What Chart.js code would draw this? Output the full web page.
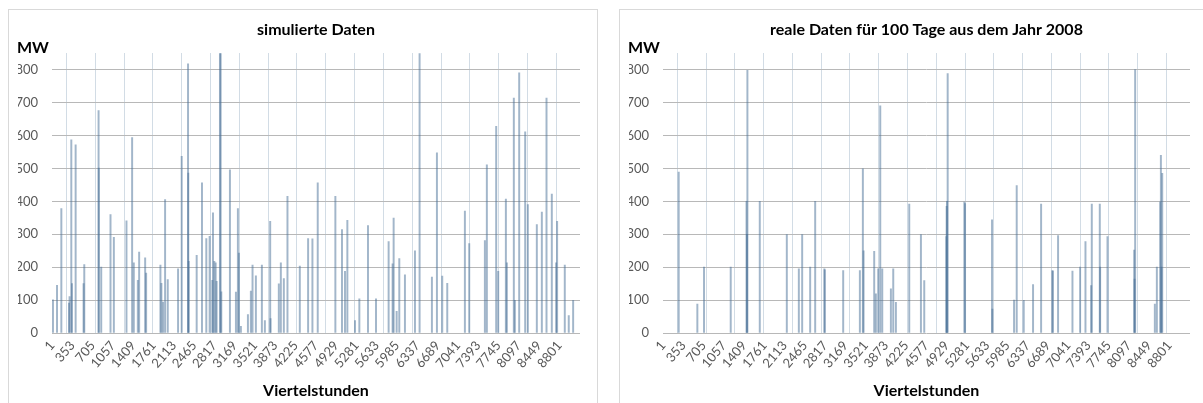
<!DOCTYPE html>
<html>
<head>
<meta charset="utf-8">
<script src="https://cdn.jsdelivr.net/npm/chart.js@4.4.0/dist/chart.umd.min.js"></script>
<style>
html, body { margin: 0; padding: 0; background: #fff; overflow: hidden; }
.box { position: absolute; top: 9px; height: 400px; border: 1px solid #d9d9d9; }
#boxSim { left: 8px; width: 588px; }
#boxReal { left: 619px; width: 600px; }
canvas { display: block; }
</style>
</head>
<body>
<div class="box" id="boxSim"><canvas id="simChart" width="588" height="400"></canvas></div>
<div class="box" id="boxReal"><canvas id="realChart" width="583" height="400"></canvas></div>
<script>
// Viertelstunden-Index und Leistung in MW (simulierte Daten)
const simIdx = [17, 87, 162, 295, 305, 335, 346, 410, 548, 560, 808, 812, 854, 1015, 1073, 1292, 1390, 1419, 1489, 1512,
  1616, 1633, 1881, 1898, 1927, 1962, 2008, 2187, 2250, 2360, 2364, 2372, 2510, 2602, 2677, 2735, 2781, 2793, 2816, 2839,
  2856, 2914, 2926, 2937, 3087, 3191, 3225, 3243, 3277, 3399, 3450, 3479, 3537, 3641, 3693, 3785, 3791, 3935, 3970, 4022,
  4085, 4299, 4443, 4518, 4610, 4916, 5031, 5083, 5124, 5257, 5332, 5482, 5621, 5840, 5909, 5927, 5979, 6025, 6123, 6297,
  6377, 6591, 6678, 6770, 6857, 7163, 7238, 7510, 7544, 7706, 7741, 7874, 7891, 8012, 8030, 8105, 8209, 8255, 8411, 8498,
  8579, 8671, 8746, 8763, 8896, 8965, 9041];
const simVal = [101, 145, 378, 91, 111, 587, 150, 572, 150, 208, 676, 501, 200, 360, 291, 341, 594, 213, 160, 246,
  228, 182, 206, 151, 94, 405, 162, 195, 537, 818, 486, 218, 236, 456, 287, 294, 160, 365, 218, 213,
  157, 880, 880, 125, 496, 124, 378, 243, 20, 56, 127, 206, 174, 206, 38, 339, 44, 149, 213, 165,
  415, 203, 287, 286, 456, 415, 314, 187, 342, 38, 104, 326, 104, 278, 210, 349, 66, 226, 177, 250,
  880, 170, 547, 173, 151, 370, 272, 281, 511, 628, 187, 407, 213, 714, 99, 790, 611, 390, 329, 367,
  714, 422, 213, 339, 206, 53, 99];

// reale Daten 2008
const realIdx = [273, 597, 713, 1177, 1452, 1460, 1467, 1682, 2152, 2361, 2419, 2558, 2645, 2805, 2812, 3132, 3422, 3474, 3486, 3671,
  3700, 3741, 3776, 3811, 3961, 4002, 4048, 4280, 4483, 4541, 4924, 4930, 4936, 4948, 5238, 5250, 5719, 5725, 6102, 6148,
  6270, 6432, 6572, 6769, 6775, 6867, 7117, 7250, 7343, 7442, 7453, 7592, 7598, 7726, 8190, 8197, 8207, 8549, 8584, 8642,
  8654, 8665, 8677];
const realVal = [489, 88, 200, 200, 400, 300, 798, 400, 299, 195, 299, 200, 400, 195, 192, 190, 190, 499, 250, 248,
  119, 195, 690, 195, 134, 195, 93, 392, 299, 159, 293, 385, 400, 788, 398, 393, 344, 73, 100, 448,
  99, 147, 392, 190, 188, 296, 188, 200, 278, 144, 392, 392, 200, 293, 252, 164, 800, 88, 200, 398,
  540, 200, 485];

const xTickLabels = [1, 353, 705, 1057, 1409, 1761, 2113, 2465, 2817, 3169, 3521, 3873, 4225, 4577, 4929, 5281,
  5633, 5985, 6337, 6689, 7041, 7393, 7745, 8097, 8449, 8801];
const xGridSteps = [0, 500, 1000, 1500, 2000, 2500, 3000, 3500, 4000, 4500, 5000, 5500, 6000, 6500, 7000, 7500, 8000, 8500, 9000];
const yTicks = [0, 100, 200, 300, 400, 500, 600, 700, 800];
const xMax = 9160;
const yMax = 850;

const mwLabel = {
  id: 'mwLabel',
  afterDraw(chart) {
    const { ctx, chartArea } = chart;
    ctx.save();
    ctx.font = 'bold 16px Lato';
    ctx.fillStyle = '#000';
    ctx.textAlign = 'left';
    ctx.textBaseline = 'middle';
    ctx.fillText('MW', chartArea.left - 35, chartArea.top - 5);
    ctx.restore();
  }
};

function makeChart(canvasId, title, idx, vals, padLeft, padRight) {
  const ctx = document.getElementById(canvasId).getContext('2d');
  return new Chart(ctx, {
    type: 'bar',
    data: {
      datasets: [{
        data: idx.map((x, i) => ({ x: x, y: vals[i] })),
        backgroundColor: 'rgba(70,110,150,0.5)',
        borderWidth: 0,
        barThickness: 1.3
      }]
    },
    options: {
      responsive: false,
      animation: false,
      layout: { padding: { left: padLeft, right: padRight, top: 0, bottom: 0 } },
      plugins: {
        legend: { display: false },
        tooltip: { enabled: false },
        title: {
          display: true,
          text: title,
          fullSize: false,
          color: '#000',
          font: { family: 'Lato', size: 16, weight: 'bold' },
          padding: { top: 10, bottom: 14 }
        }
      },
      scales: {
        x: {
          type: 'linear',
          min: 0,
          max: xMax,
          offset: false,
          afterBuildTicks: a => { a.ticks = xTickLabels.map(v => ({ value: v })); },
          afterFit: a => { a.height = 77; },
          grid: { display: false, drawTicks: false },
          border: { display: false },
          ticks: {
            autoSkip: false,
            minRotation: 50,
            maxRotation: 50,
            padding: 5,
            color: '#595959',
            font: { family: 'Lato', size: 13 },
            callback: v => String(v)
          },
          title: {
            display: true,
            text: 'Viertelstunden',
            color: '#000',
            font: { family: 'Lato', size: 16, weight: 'bold' },
            padding: { top: 0, bottom: 10 }
          }
        },
        xGrid: {
          type: 'linear',
          position: 'top',
          min: 0,
          max: xMax,
          offset: false,
          afterBuildTicks: a => { a.ticks = xGridSteps.map(v => ({ value: v })); },
          afterFit: a => { a.height = 0; },
          ticks: { display: false },
          grid: { color: '#d2dce5', drawTicks: false },
          border: { display: false }
        },
        y: {
          min: 0,
          max: yMax,
          afterBuildTicks: a => { a.ticks = yTicks.map(v => ({ value: v })); },
          afterFit: a => { a.width = 34; },
          grid: { color: '#b8b8b8', drawTicks: false },
          border: { display: false },
          ticks: { padding: 14, color: '#595959', font: { family: 'Lato', size: 13 } }
        }
      }
    },
    plugins: [mwLabel]
  });
}

makeChart('simChart', 'simulierte Daten', simIdx, simVal, 9, 17);
makeChart('realChart', 'reale Daten für 100 Tage aus dem Jahr 2008', realIdx, realVal, 9, 13);
</script>
</body>
</html>
